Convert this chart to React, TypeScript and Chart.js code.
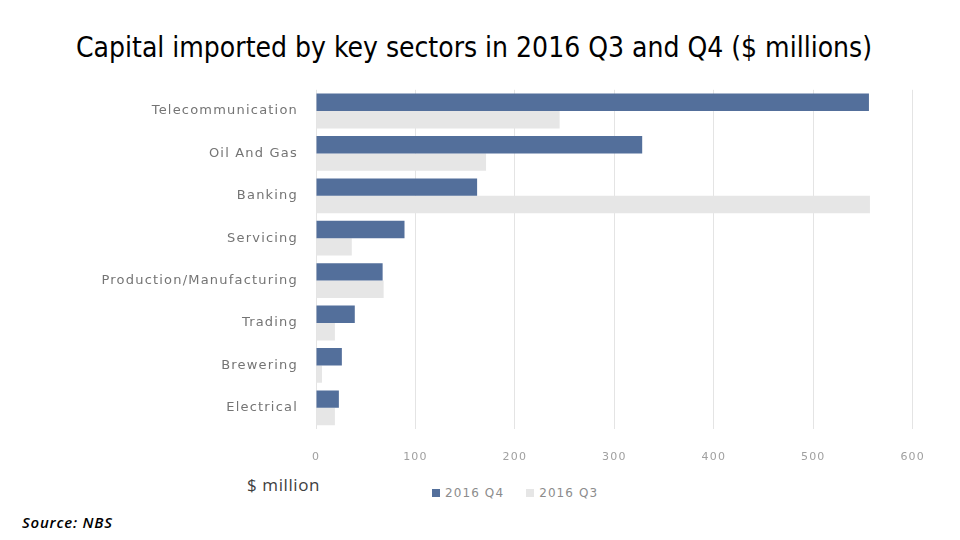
import React, { useEffect, useRef } from "react";
import { Chart, registerables } from "chart.js";

Chart.register(...registerables);

// Sectors and imported capital ($ millions) for 2016 Q4 and Q3
const sectors = [
  "Telecommunication",
  "Oil And Gas",
  "Banking",
  "Servicing",
  "Production/Manufacturing",
  "Trading",
  "Brewering",
  "Electrical",
];
const q4Values = [556, 328, 162, 89, 67, 39, 26, 23];
const q3Values = [245, 171, 557, 36, 68, 19, 6, 19];
const xTicks = [0, 100, 200, 300, 400, 500, 600];
const seriesNames = ["2016 Q4", "2016 Q3"];

const BLUE = "#536f9b";
const GREY = "#e6e6e6";

// Slightly airy axis lettering
const spacedText = {
  id: "spacedText",
  beforeUpdate(chart: any) {
    chart.ctx.letterSpacing = "1.2px";
  },
  beforeDraw(chart: any) {
    chart.ctx.letterSpacing = "1.2px";
  },
};

export default function App() {
  const canvasRef = useRef<HTMLCanvasElement | null>(null);

  useEffect(() => {
    const canvas = canvasRef.current;
    if (!canvas) return;
    const chart = new Chart(canvas, {
      type: "bar",
      data: {
        labels: sectors,
        datasets: [
          {
            label: seriesNames[0],
            data: q4Values,
            backgroundColor: BLUE,
            barPercentage: 1.0,
            categoryPercentage: 0.82,
          },
          {
            label: seriesNames[1],
            data: q3Values,
            backgroundColor: GREY,
            barPercentage: 1.0,
            categoryPercentage: 0.82,
          },
        ],
      },
      plugins: [spacedText],
      options: {
        indexAxis: "y",
        responsive: false,
        animation: false,
        maintainAspectRatio: false,
        layout: { padding: { top: 9, right: 16, bottom: 0, left: 0 } },
        plugins: {
          legend: { display: false },
          tooltip: { enabled: false },
          title: { display: false },
        },
        scales: {
          x: {
            min: 0,
            max: 600,
            afterBuildTicks: (scale: any) => {
              scale.ticks = xTicks.map((v) => ({ value: v }));
            },
            afterFit: (scale: any) => {
              scale.height = 44;
            },
            border: { display: false },
            grid: { color: "#e4e4e4", drawTicks: false, lineWidth: 1 },
            ticks: {
              padding: 22,
              color: "#a0a0a0",
              font: { family: "DejaVu Sans", size: 11 },
            },
          },
          y: {
            afterFit: (scale: any) => {
              scale.width = 226;
            },
            border: { display: false },
            grid: { display: false, drawTicks: false },
            ticks: {
              padding: 18,
              color: "#747474",
              font: { family: "DejaVu Sans", size: 13 },
            },
          },
        },
      },
    });
    return () => chart.destroy();
  }, []);

  return (
    <div
      style={{
        position: "fixed",
        left: 0,
        top: 0,
        width: 960,
        height: 540,
        background: "#ffffff",
        overflow: "hidden",
      }}
    >
      <div
        style={{
          position: "absolute",
          left: 0,
          top: 31,
          width: 948,
          textAlign: "center",
          fontFamily: "'Liberation Sans Narrow', 'DejaVu Sans Condensed', 'Open Sans', sans-serif",
          fontSize: 28,
          color: "#000",
          whiteSpace: "nowrap",
        }}
      >
        Capital imported by key sectors in 2016 Q3 and Q4 ($ millions)
      </div>
      <canvas
        ref={canvasRef}
        width={857}
        height={409}
        style={{ position: "absolute", left: 90, top: 64, width: 857, height: 409 }}
      />
      <div
        style={{
          position: "absolute",
          left: 247,
          top: 473,
          fontFamily: "'Open Sans', sans-serif",
          fontSize: 17,
          letterSpacing: 0.6,
          color: "#404040",
        }}
      >
        $ million
      </div>
      <div
        style={{
          position: "absolute",
          left: 432,
          top: 486,
          display: "flex",
          alignItems: "center",
          fontFamily: "'DejaVu Sans', sans-serif",
          fontSize: 12,
          color: "#8c8c8c",
          letterSpacing: 1.1,
        }}
      >
        <span style={{ width: 8, height: 8, background: BLUE, display: "inline-block", marginRight: 5 }} />
        <span style={{ marginRight: 22 }}>{seriesNames[0]}</span>
        <span style={{ width: 8, height: 8, background: GREY, display: "inline-block", marginRight: 5 }} />
        <span>{seriesNames[1]}</span>
      </div>
      <div
        style={{
          position: "absolute",
          left: 22,
          top: 512,
          fontFamily: "'Open Sans', sans-serif",
          fontStyle: "italic",
          fontWeight: 600,
          fontSize: 15,
          letterSpacing: 0.8,
          color: "#000",
        }}
      >
        Source: NBS
      </div>
    </div>
  );
}
